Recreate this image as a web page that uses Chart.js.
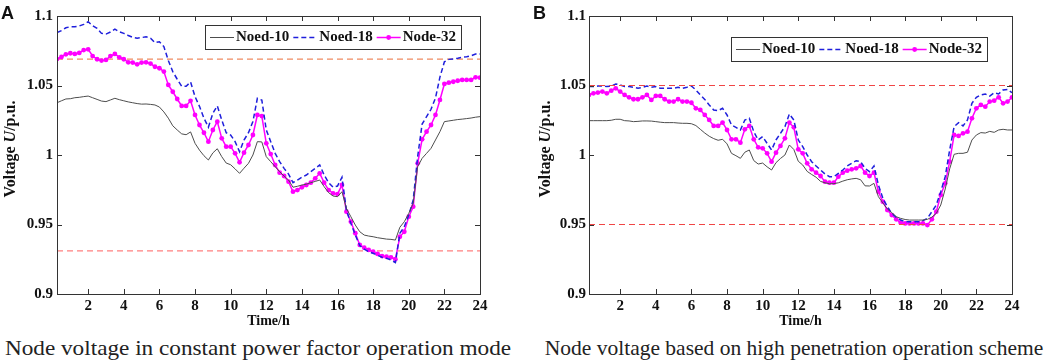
<!DOCTYPE html>
<html><head><meta charset="utf-8">
<script src="https://cdn.jsdelivr.net/npm/chart.js@4.4.1/dist/chart.umd.min.js"></script>
<style>
html,body{margin:0;padding:0;background:#fff;width:1045px;height:364px;overflow:hidden;}
#wrap{position:relative;width:1045px;height:364px;}
canvas{position:absolute;top:0;}
#cA{left:0;} #cB{left:520px;}
.tag{position:absolute;top:4px;font:bold 18px 'Liberation Sans',Arial,sans-serif;line-height:18px;color:#111;}
.cap{position:absolute;top:336px;font:21.5px 'Liberation Serif','Times New Roman',serif;line-height:24px;color:#222;white-space:nowrap;text-align:center;}
</style></head><body>
<div id="wrap">
<canvas id="cA" width="520" height="330"></canvas>
<canvas id="cB" width="525" height="330"></canvas>
<div class="tag" style="left:1px">A</div>
<div class="tag" style="left:533px">B</div>
<div class="cap" style="left:0;width:516px;transform:scaleX(1.08);transform-origin:258px 0">Node voltage in constant power factor operation mode</div>
<div class="cap" style="left:528px;width:532px">Node voltage based on high penetration operation scheme</div>
</div>
<script>
// ---------- DATA ----------
const hours = [0.25,0.5,0.75,1,1.25,1.5,1.75,2,2.25,2.5,2.75,3,3.25,3.5,3.75,4,4.25,4.5,4.75,5,5.25,5.5,5.75,6,
6.25,6.5,6.75,7,7.25,7.5,7.75,8,8.25,8.5,8.75,9,9.25,9.5,9.75,10,10.25,10.5,10.75,11,11.25,11.5,11.75,12,
12.25,12.5,12.75,13,13.25,13.5,13.75,14,14.25,14.5,14.75,15,15.25,15.5,15.75,16,16.25,16.5,16.75,17,17.25,17.5,17.75,18,
18.25,18.5,18.75,19,19.25,19.5,19.75,20,20.25,20.5,20.75,21,21.25,21.5,21.75,22,22.25,22.5,22.75,23,23.25,23.5,23.75,24];

const seriesNames = ['Noed-10','Noed-18','Node-32'];

// Panel A: constant power factor operation mode
const nodeA10 = [1.0376,1.039,1.0403,1.0405,1.0412,1.0415,1.042,1.0424,1.0412,1.04,1.0388,1.0384,1.0396,1.0408,1.0398,1.039,
1.0382,1.0376,1.037,1.0366,1.0367,1.0364,1.036,1.0345,1.031,1.0265,1.021,1.018,1.0152,1.0146,1.0166,1.0084,
1.0035,0.9995,0.9964,1.0015,1.0045,0.9988,0.9942,0.993,0.99,0.9868,0.9905,0.994,1.0,1.0096,1.0094,0.9988,
0.9952,0.9916,0.988,0.9849,0.982,0.9768,0.9775,0.9784,0.979,0.9801,0.981,0.982,0.9772,0.9729,0.9705,0.97,
0.9736,0.9616,0.9556,0.9496,0.9448,0.9424,0.9417,0.9412,0.9405,0.94,0.9395,0.9393,0.9388,0.948,0.952,0.958,
0.9652,0.9916,0.9976,1.0012,1.0048,1.0108,1.0168,1.024,1.0245,1.025,1.0255,1.0258,1.0262,1.0266,1.0272,1.0276];
const nodeA18 = [1.088,1.0895,1.0915,1.0923,1.0922,1.0928,1.094,1.0959,1.093,1.0911,1.0875,1.087,1.0885,1.0905,1.0887,1.0875,
1.086,1.0847,1.084,1.0845,1.085,1.084,1.0808,1.0815,1.078,1.068,1.06,1.0545,1.0495,1.0495,1.0525,1.042,
1.035,1.0265,1.02,1.03,1.0353,1.0252,1.016,1.0144,1.0096,1.0024,1.0108,1.016,1.024,1.0408,1.0395,1.018,
1.0096,1.0012,0.9952,0.9904,0.9863,0.9801,0.982,0.984,0.9856,0.988,0.9904,0.9928,0.9856,0.9801,0.9768,0.9777,
0.984,0.9604,0.9509,0.9424,0.9348,0.9322,0.9304,0.9293,0.9278,0.9264,0.9257,0.9245,0.9226,0.9437,0.9484,0.9568,
0.9676,0.9988,1.0223,1.0276,1.0329,1.041,1.056,1.067,1.0688,1.069,1.0696,1.0703,1.0707,1.0714,1.0727,1.0727];
const nodeA32 = [1.069,1.0705,1.0724,1.0732,1.0727,1.0734,1.0755,1.076,1.0712,1.0689,1.0679,1.0684,1.0712,1.0727,1.0703,1.0689,
1.0667,1.0665,1.0652,1.0665,1.0667,1.0658,1.0635,1.0624,1.06,1.0504,1.0455,1.0403,1.0353,1.0353,1.039,1.0288,
1.0216,1.016,1.0096,1.018,1.024,1.012,1.006,1.006,1.0012,0.9947,1.0017,1.0072,1.0144,1.0288,1.028,1.0084,
1.0007,0.9928,0.9873,0.9849,0.9808,0.9736,0.9748,0.9768,0.9784,0.9801,0.9832,0.9868,0.9801,0.9748,0.9724,0.9719,
0.9784,0.9592,0.952,0.9437,0.9353,0.9333,0.9317,0.9304,0.9288,0.9273,0.9268,0.9264,0.925,0.9412,0.9448,0.9556,
0.9628,0.994,1.0113,1.0168,1.0216,1.0288,1.0396,1.0511,1.052,1.0527,1.0534,1.054,1.054,1.054,1.0559,1.0556];
const refLinesA = [1.069, 0.931];

// Panel B: high penetration operation scheme
const nodeB10 = [1.0247,1.0247,1.0247,1.0247,1.0247,1.025,1.0257,1.0257,1.0247,1.0245,1.024,1.0242,1.0245,1.0245,1.0244,1.024,
1.0236,1.0233,1.0233,1.0233,1.023,1.0228,1.0228,1.0225,1.0212,1.0185,1.0158,1.0135,1.0118,1.0106,1.0113,1.008,
1.0012,0.9995,0.9976,1.002,1.0036,0.996,0.9935,0.9942,0.9915,0.9892,0.9945,0.9975,1.0,1.0072,1.004,0.9955,
0.9928,0.9882,0.986,0.984,0.981,0.98,0.9793,0.9794,0.98,0.9812,0.9822,0.9828,0.9832,0.9822,0.9778,0.9777,
0.9796,0.97,0.9655,0.9612,0.9585,0.9556,0.9544,0.9536,0.9532,0.9532,0.9532,0.9532,0.9537,0.9553,0.958,0.964,
0.9755,0.99,1.0005,1.0012,1.0012,1.002,1.0108,1.0144,1.0161,1.0158,1.017,1.0163,1.018,1.0185,1.018,1.018];
const nodeB18 = [1.0492,1.0492,1.0496,1.0496,1.0492,1.0496,1.0511,1.0504,1.0492,1.0492,1.0487,1.048,1.0487,1.0496,1.0487,1.0492,
1.048,1.048,1.048,1.048,1.0487,1.048,1.0487,1.0496,1.0468,1.0432,1.04,1.036,1.0324,1.0319,1.0336,1.0288,
1.0216,1.0199,1.018,1.0252,1.0264,1.0168,1.0108,1.0132,1.0084,1.0036,1.0108,1.0156,1.0204,1.0295,1.0252,1.0108,
1.006,1.0,0.9952,0.9921,0.9892,0.9863,0.9844,0.9844,0.9868,0.9892,0.9921,0.994,0.9959,0.9952,0.9904,0.988,
0.9921,0.9784,0.9688,0.9628,0.958,0.9552,0.9532,0.952,0.952,0.952,0.952,0.9528,0.9544,0.9592,0.964,0.9736,
0.9844,1.0036,1.0204,1.0233,1.0209,1.0252,1.0372,1.0415,1.0432,1.0439,1.0424,1.0448,1.0439,1.0468,1.0472,1.0448];
const nodeB32 = [1.0432,1.0444,1.0449,1.0456,1.0444,1.0463,1.048,1.0456,1.0432,1.0415,1.0401,1.0401,1.0415,1.0432,1.0396,1.0425,
1.0425,1.0401,1.0384,1.0384,1.0401,1.0384,1.0384,1.0376,1.0336,1.0324,1.0288,1.0252,1.0209,1.0209,1.0233,1.018,
1.0113,1.0113,1.0089,1.0185,1.0209,1.0113,1.0055,1.0048,1.0012,0.9952,1.0017,1.0065,1.012,1.0233,1.0199,1.0041,
1.0012,0.994,0.9897,0.9873,0.9849,0.9808,0.9801,0.9801,0.9844,0.9873,0.9887,0.9897,0.9904,0.9921,0.9873,0.9849,
0.9873,0.9736,0.9664,0.9604,0.9568,0.9537,0.9513,0.9508,0.9508,0.9508,0.9508,0.9508,0.9496,0.9537,0.9592,0.9712,
0.9796,0.9952,1.0144,1.0137,1.0156,1.0168,1.0264,1.0336,1.036,1.0348,1.0384,1.0391,1.0415,1.0372,1.0384,1.0415];
const refLinesB = [1.05, 0.95];

const xTickValues = [2,4,6,8,10,12,14,16,18,20,22,24];
const yTickValues = [0.9,0.95,1,1.05,1.1];
const yTickLabels = ['0.9','0.95','1','1.05','1.1'];
const xTitle = 'Time/h';
const yTitleParts = ['Voltage ','U','/p.u.'];

// ---------- RENDER ----------
const SERIF = "'Liberation Serif','Times New Roman',serif";
Chart.defaults.font.family = SERIF;
Chart.defaults.color = '#111';

const seriesStyle = [
  {borderColor:'#4d4d4d', borderWidth:1, borderDash:[], pointRadius:0},
  {borderColor:'#1f1fdc', borderWidth:1.5, borderDash:[5,3], pointRadius:0},
  {borderColor:'#ff00ff', borderWidth:1.5, borderDash:[], pointRadius:2.4, pointBackgroundColor:'#ff00ff', pointBorderColor:'#ff00ff', pointBorderWidth:0}
];

function pts(vals){ return hours.map((h,i)=>({x:h, y:vals[i]})); }
function refPts(v){ return [{x:hours[0], y:v},{x:hours[hours.length-1], y:v}]; }

const framePlugin = {
  id:'frame',
  afterDraw(chart){
    const {ctx, chartArea:a, scales} = chart;
    ctx.save();
    ctx.strokeStyle = '#333'; ctx.lineWidth = 1;
    ctx.strokeRect(Math.round(a.left)+0.5, Math.round(a.top)+0.5, Math.round(a.right-a.left), Math.round(a.bottom-a.top));
    const L = 5;
    ctx.beginPath();
    xTickValues.forEach(v=>{
      const px = Math.round(scales.x.getPixelForValue(v))+0.5;
      ctx.moveTo(px, a.bottom); ctx.lineTo(px, a.bottom-L);
      ctx.moveTo(px, a.top); ctx.lineTo(px, a.top+L);
    });
    yTickValues.forEach(v=>{
      const py = Math.round(scales.y.getPixelForValue(v))+0.5;
      ctx.moveTo(a.left, py); ctx.lineTo(a.left+L, py);
      ctx.moveTo(a.right, py); ctx.lineTo(a.right-L, py);
    });
    ctx.stroke();
    ctx.restore();
  }
};

const yTitlePlugin = {
  id:'ytitle',
  afterDraw(chart, args, o){
    const ctx = chart.ctx;
    ctx.save();
    ctx.translate(o.cx, o.cy);
    ctx.rotate(-Math.PI/2);
    ctx.fillStyle = '#111';
    ctx.textBaseline = 'middle';
    const fonts = ['bold 16px '+SERIF, 'italic bold 16px '+SERIF, 'bold 16px '+SERIF];
    let total = 0; const ws = [];
    yTitleParts.forEach((t,i)=>{ ctx.font = fonts[i]; const w = ctx.measureText(t).width; ws.push(w); total += w; });
    let x = -total/2;
    yTitleParts.forEach((t,i)=>{ ctx.font = fonts[i]; ctx.fillText(t, x, 0); x += ws[i]; });
    ctx.restore();
  }
};

const legendPlugin = {
  id:'legendBox',
  afterDraw(chart, args, o){
    const ctx = chart.ctx;
    const items = chart.data.datasets.filter(d=>d.inLegend);
    ctx.save();
    ctx.font = 'bold 15px '+SERIF;
    const pad = 5, sample = 24, gap = 2, itemGap = 4;
    let w = pad*2;
    items.forEach((d,i)=>{ w += sample + gap + ctx.measureText(d.label).width + (i<items.length-1 ? itemGap : 0); });
    const x0 = Math.round(o.right - w), y0 = o.top, h = o.height;
    ctx.fillStyle = '#fff';
    ctx.fillRect(x0, y0, w, h);
    ctx.strokeStyle = '#333'; ctx.lineWidth = 1;
    ctx.strokeRect(x0+0.5, y0+0.5, Math.round(w), h);
    let x = x0 + pad; const cy = y0 + h/2 + 0.5;
    items.forEach((d,i)=>{
      ctx.save();
      ctx.strokeStyle = d.borderColor; ctx.lineWidth = d.borderWidth;
      ctx.setLineDash(d.borderDash || []);
      ctx.beginPath(); ctx.moveTo(x, cy); ctx.lineTo(x+sample, cy); ctx.stroke();
      if (d.pointRadius > 0){
        ctx.setLineDash([]);
        ctx.fillStyle = d.pointBackgroundColor;
        ctx.beginPath(); ctx.arc(x+sample/2, cy, d.pointRadius, 0, Math.PI*2); ctx.fill();
      }
      ctx.restore();
      x += sample + gap;
      ctx.fillStyle = '#111'; ctx.textBaseline = 'middle';
      ctx.fillText(d.label, x, cy);
      x += ctx.measureText(d.label).width + itemGap;
    });
    ctx.restore();
  }
};

function makeChart(id, series, refs, refColors, cfg){
  const datasets = series.map((vals,i)=>Object.assign({
    label: seriesNames[i], data: pts(vals), inLegend:true, fill:false, tension:0, order:1
  }, seriesStyle[i]));
  refs.forEach((v,i)=>datasets.push({
    label:'ref'+i, data: refPts(v), inLegend:false, borderColor: refColors[i], borderWidth:1.2,
    borderDash:[6,4], pointRadius:0, fill:false, order: cfg.refOrder
  }));
  return new Chart(document.getElementById(id), {
    type:'line',
    data:{datasets},
    options:{
      responsive:false, animation:false, devicePixelRatio:1,
      layout:{padding:{left:0, top:16, right:cfg.padRight, bottom:0}},
      plugins:{
        legend:{display:false}, tooltip:{enabled:false},
        ytitle:{cx:cfg.titleX, cy:149},
        legendBox:{right:cfg.legRight, top:cfg.legTop, height:24}
      },
      scales:{
        x:{type:'linear', min:hours[0], max:hours[hours.length-1],
          afterBuildTicks:s=>{ s.ticks = xTickValues.map(v=>({value:v})); },
          afterFit:s=>{ s.height = 36; },
          grid:{display:false, drawTicks:false}, border:{display:false},
          ticks:{padding:3, autoSkip:false, maxRotation:0, color:'#111', font:{size:15, weight:'bold'}},
          title:{display:true, text:xTitle, color:'#111', font:{size:14, weight:'bold'}, padding:{top:0,bottom:0}}
        },
        y:{type:'linear', min:0.9, max:1.1,
          afterBuildTicks:s=>{ s.ticks = yTickValues.map(v=>({value:v})); },
          afterFit:s=>{ s.width = cfg.yWidth; },
          grid:{display:false, drawTicks:false}, border:{display:false},
          ticks:{padding:cfg.yPad, color:'#111', font:{size:15, weight:'bold'},
            callback:(v,i)=>yTickLabels[i]}
        }
      }
    },
    plugins:[framePlugin, yTitlePlugin, legendPlugin]
  });
}

makeChart('cA', [nodeA10, nodeA18, nodeA32], refLinesA, ['#f08a60','#ff8080'],
  {padRight:40, yWidth:57, yPad:4, titleX:11, legRight:461, legTop:25, refOrder:2});
makeChart('cB', [nodeB10, nodeB18, nodeB32], refLinesB, ['#f04545','#f04545'],
  {padRight:33, yWidth:69, yPad:3, titleX:25.5, legRight:467, legTop:37, refOrder:0});
</script>
</body></html>
